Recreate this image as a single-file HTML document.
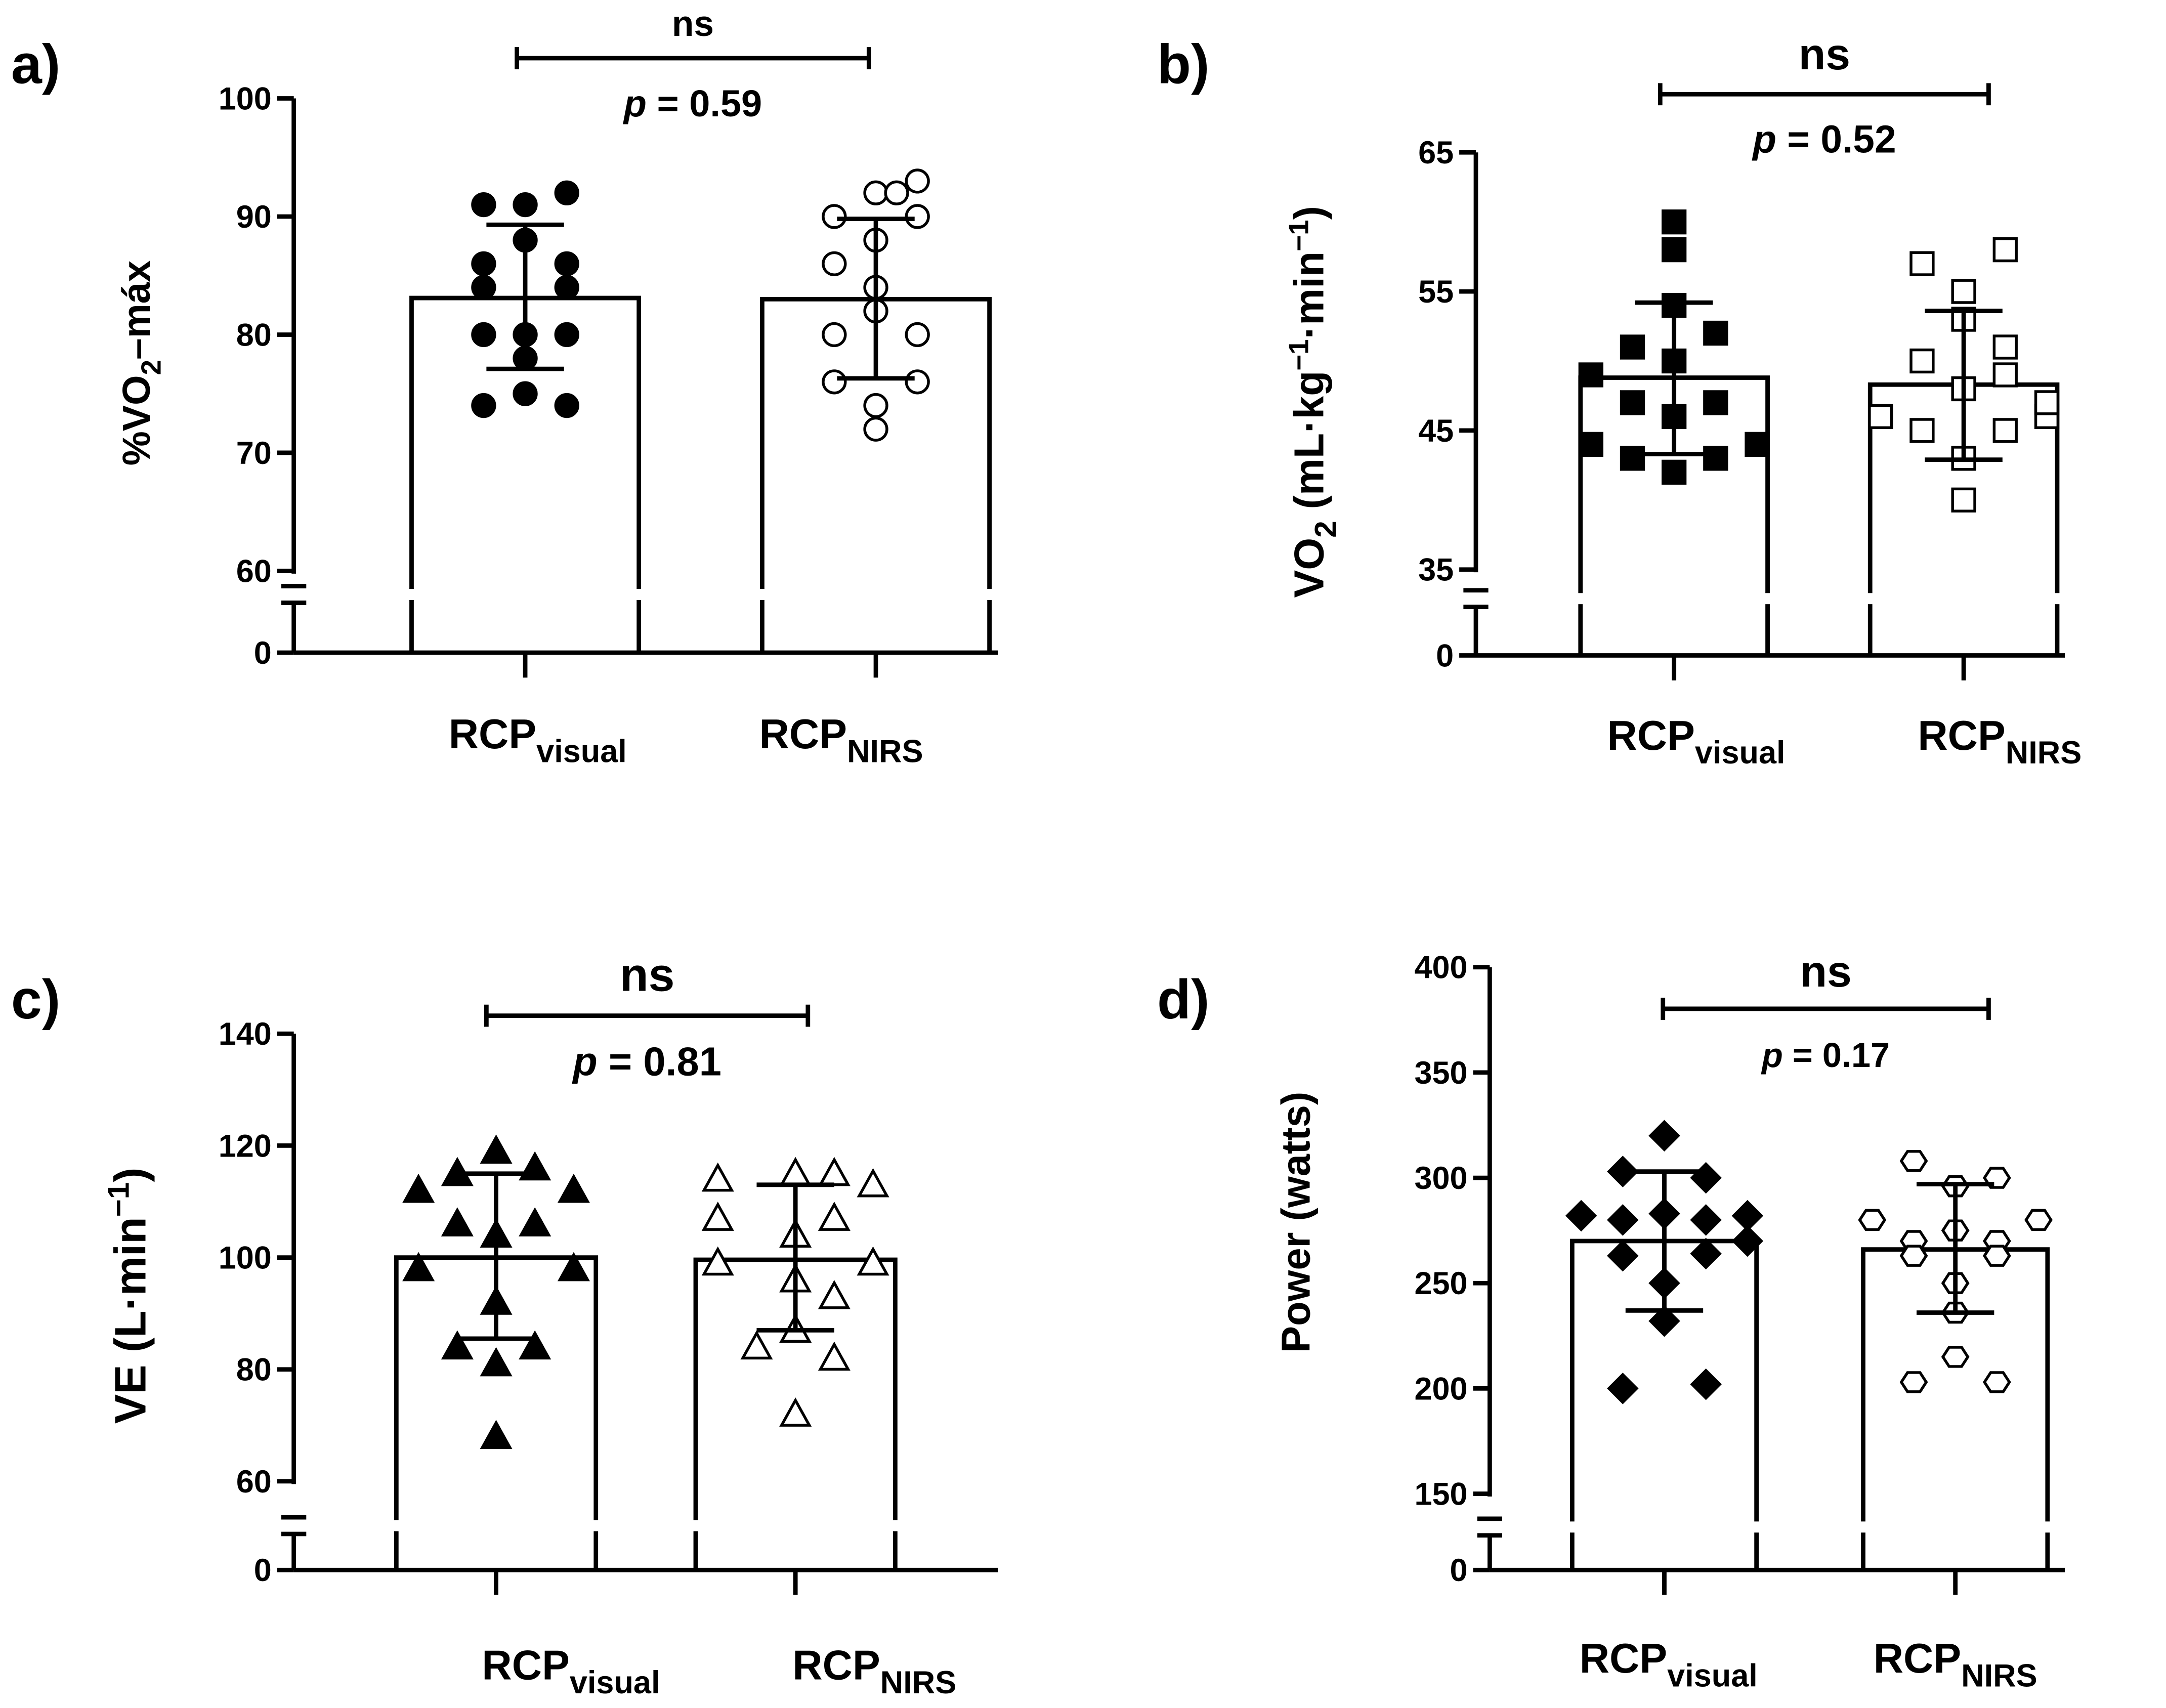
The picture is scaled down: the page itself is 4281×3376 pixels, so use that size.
<!DOCTYPE html>
<html><head><meta charset="utf-8">
<style>
html,body{margin:0;padding:0;background:#fff;}
svg{display:block;font-family:"Liberation Sans",Arial,sans-serif;font-weight:bold;}
</style></head>
<body>
<svg id="fig" width="4281" height="3376" viewBox="0 0 1563 1232.6" preserveAspectRatio="none" xmlns="http://www.w3.org/2000/svg"></svg>
<script>
// ---- data ----
const categories = ["visual", "NIRS"];
const aMeans = [83.1, 83.0];
const aLow = [77.1, 76.3];
const aHigh = [89.3, 89.8];
const aVisual = [[-1,91],[0,91],[1,92],[-1,86],[0,88],[1,86],[-1,84],[1,84],[-1,80],[0,80],[1,80],[0,78],[-1,74],[1,74],[0,75]];
const aNirs = [[-1,90],[0,92],[1,93],[-1,86],[0,88],[1,90],[0,84],[-1,80],[0,82],[1,80],[-1,76],[0,74],[1,76],[0,72],[0.5,92]];
const aTicks = [60,70,80,90,100];

const bMeans = [48.8, 48.3];
const bLow = [43.3, 42.9];
const bHigh = [54.2, 53.6];
const bVisual = [[0,60],[0,58],[0,54],[-1,51],[1,52],[-2,49],[0,50],[-1,47],[1,47],[0,46],[-2,44],[2,44],[-1,43],[1,43],[0,42]];
const bNirs = [[-1,57],[1,58],[0,55],[0,53],[-1,50],[1,51],[1,49],[-2,46],[0,48],[2,46],[-1,45],[1,45],[2,47],[0,43],[0,40]];
const bTicks = [35,45,55,65];

const cMeans = [100, 99.6];
const cLow = [85.5, 87];
const cHigh = [115, 113];
const cVisual = [[0,119],[-1,115],[1,116],[-2,112],[2,112],[-1,106],[1,106],[0,104],[-2,98],[2,98],[0,92],[-1,84],[1,84],[0,81],[0,68]];
const cNirs = [[-2,114],[0,115],[1,115],[2,113],[-2,107],[1,107],[0,104],[-2,99],[2,99],[0,96],[1,93],[-1,84],[0,87],[1,82],[0,72]];
const cTicks = [60,80,100,120,140];

const dMeans = [270, 266];
const dLow = [237, 236];
const dHigh = [303, 297];
const dVisual = [[0,320],[-1,303],[1,300],[-2,282],[-1,280],[1,280],[2,282],[0,283],[-1,263],[1,264],[0,250],[-1,200],[1,202],[0,232],[2,270]];
const dNirs = [[-1,308],[1,300],[0,296],[-2,280],[-1,270],[0,275],[1,270],[2,280],[-1,263],[1,263],[0,250],[0,236],[-1,203],[1,203],[0,215]];
const dTicks = [150,200,250,300,350,400];

const pvals = ["0.59","0.52","0.81","0.17"];

// ---- drawing ----
const svg = document.getElementById('fig');
const NS = "http://www.w3.org/2000/svg";
function mk(tag, attrs, parent){
  const e = document.createElementNS(NS, tag);
  for (const k in attrs) e.setAttribute(k, attrs[k]);
  (parent||svg).appendChild(e);
  return e;
}
function txt(parent, x, y, s, size, anchor){
  const t = mk('text', {x:x, y:y, 'font-size':size, 'text-anchor':anchor||'middle', fill:'#000'}, parent);
  t.textContent = s;
  return t;
}

function panel(cfg){
  const g = mk('g', {});
  
  
  const sy = v => cfg.yTop + (cfg.tmax - v) / (cfg.tmax - cfg.tmin) * (cfg.yMin - cfg.yTop);
  const S = {stroke:'#000','stroke-width':3.2,fill:'none'};
  const ax = mk('g', {}, g);
  
  
  mk('line', Object.assign({x1:cfg.ax, y1:cfg.yTop, x2:cfg.ax, y2:cfg.yMin+2}, S), ax);
  mk('line', Object.assign({x1:cfg.ax, y1:cfg.brk+10, x2:cfg.ax, y2:cfg.y0}, S), ax);
  mk('line', Object.assign({x1:cfg.ax-9, y1:cfg.brk-2, x2:cfg.ax+9, y2:cfg.brk-2}, S), ax);
  mk('line', Object.assign({x1:cfg.ax-9, y1:cfg.brk+10, x2:cfg.ax+9, y2:cfg.brk+10}, S), ax);
  cfg.ticks.forEach(v => {
    const y = sy(v);
    mk('line', Object.assign({x1:cfg.ax-12, y1:y, x2:cfg.ax, y2:y}, S), ax);
    const t = txt(ax, cfg.ax-16, y+8, String(v), 23, 'end');
    
    
  });
  mk('line', Object.assign({x1:cfg.ax-12, y1:cfg.y0, x2:cfg.ax, y2:cfg.y0}, S), ax);
  const z = txt(ax, cfg.ax-16, cfg.y0+8, "0", 23, 'end');
  
  
  const xa = mk('line', Object.assign({x1:cfg.ax, y1:cfg.y0, x2:cfg.axEnd, y2:cfg.y0}, S), g);
  
  
  categories.forEach((c, i) => {
    const cx = cfg.cx[i];
    const top = sy(cfg.means[i]);
    const bl = cx - cfg.bw/2, br = cx + cfg.bw/2;
    const bar = mk('path', Object.assign({d:`M${bl},${cfg.y0} L${bl},${top} L${br},${top} L${br},${cfg.y0}`}, S), g);
    
    
    [bl, br].forEach(x => {
      mk('rect', {x:x-4, y:cfg.brk, width:8, height:8, fill:'#fff'}, g);
    });
    mk('line', Object.assign({x1:cx, y1:cfg.y0, x2:cx, y2:cfg.y0+18}, S), g);
    const pts = i === 0 ? cfg.pv : cfg.pn;
    const shape = cfg.shapes[i];
    pts.forEach(p => {
      const px = cx + p[0]*cfg.spread, py = sy(p[1]);
      const fill = i === 0 ? '#000' : '#fff';
      const st = {stroke:'#000','stroke-width':2,fill:fill};
      let m;
      const r = 8;
      if (shape === 'circle') m = mk('circle', Object.assign({cx:px, cy:py, r:r}, st), g);
      else if (shape === 'square') m = mk('rect', Object.assign({x:px-r, y:py-r, width:2*r, height:2*r}, st), g);
      else if (shape === 'tri') m = mk('polygon', Object.assign({points:`${px},${py-10} ${px-10},${py+8} ${px+10},${py+8}`}, st), g);
      else if (shape === 'diamond') m = mk('polygon', Object.assign({points:`${px},${py-10} ${px+10},${py} ${px},${py+10} ${px-10},${py}`}, st), g);
      else {
        let ps = [];
        for (let k=0;k<6;k++){ const a = Math.PI/3*k; ps.push((px+9*Math.cos(a))+','+(py+8*Math.sin(a))); }
        m = mk('polygon', Object.assign({points:ps.join(' ')}, st), g);
      }
      
      
    });
    const eb = mk('g', {}, g);
    
    
    const lo = sy(cfg.low[i]), hi = sy(cfg.high[i]);
    mk('line', Object.assign({x1:cx, y1:lo, x2:cx, y2:hi}, S), eb);
    mk('line', Object.assign({x1:cx-28, y1:lo, x2:cx+28, y2:lo}, S), eb);
    mk('line', Object.assign({x1:cx-28, y1:hi, x2:cx+28, y2:hi}, S), eb);
    const lab = mk('text', {x:cfg.labX[i], y:cfg.labY, 'font-size':30, 'text-anchor':'middle', fill:'#000'}, g);
    
    
    const t1 = mk('tspan', {}, lab); t1.textContent = 'RCP';
    const t2 = mk('tspan', {dy:10, 'font-size':23}, lab); t2.textContent = c;
  });
  const sg = mk('g', {}, g);
  
  
  mk('line', Object.assign({x1:cfg.br[0], y1:cfg.brY, x2:cfg.br[1], y2:cfg.brY}, S), sg);
  mk('line', Object.assign({x1:cfg.br[0], y1:cfg.brY-8, x2:cfg.br[0], y2:cfg.brY+8}, S), sg);
  mk('line', Object.assign({x1:cfg.br[1], y1:cfg.brY-8, x2:cfg.br[1], y2:cfg.brY+8}, S), sg);
  const mid = (cfg.br[0]+cfg.br[1])/2;
  txt(sg, mid, cfg.nsY, 'ns', cfg.nsSize);
  const pt = mk('text', {x:mid, y:cfg.pY, 'font-size':cfg.pSize, 'text-anchor':'middle', fill:'#000'}, sg);
  const i1 = mk('tspan', {'font-style':'italic'}, pt); i1.textContent = 'p';
  const i2 = mk('tspan', {}, pt); i2.textContent = ' = ' + cfg.p;
  const pl = txt(g, cfg.letterX, cfg.letterY, cfg.letter, 40, 'start');
  
  
  const yt = mk('text', {transform:`translate(${cfg.ytX},${cfg.ytY}) rotate(-90)`, 'font-size':cfg.ytSize, 'text-anchor':'middle', fill:'#000'}, g);
  
  
  cfg.ytParts.forEach(pp => { const s = mk('tspan', pp[1], yt); s.textContent = pp[0]; });
}

panel({name:'panel-a', ax:212, axEnd:720, yTop:71, yMin:412, tmin:60, tmax:100, brk:425, y0:471, ticks:aTicks,
  cx:[379,632], bw:164, means:aMeans, low:aLow, high:aHigh, pv:aVisual, pn:aNirs, shapes:['circle','circle'], spread:30,
  labX:[388,607], labY:540, br:[373,627], brY:42, nsY:26, nsSize:26, pY:84, pSize:27, p:pvals[0], letter:'a)', letterX:8, letterY:60,
  ytX:108, ytY:262, ytSize:28, ytParts:[['%VO',{}],['2',{dy:8,'font-size':20}],['–máx',{dy:-8}]]});
panel({name:'panel-b', ax:1065, axEnd:1490, yTop:110, yMin:411, tmin:35, tmax:65, brk:428, y0:473, ticks:bTicks,
  cx:[1208,1417], bw:135, means:bMeans, low:bLow, high:bHigh, pv:bVisual, pn:bNirs, shapes:['square','square'], spread:30,
  labX:[1224,1443], labY:541, br:[1198,1435], brY:68, nsY:50, nsSize:32, pY:110, pSize:28, p:pvals[1], letter:'b)', letterX:835, letterY:60,
  ytX:955, ytY:290, ytSize:30, ytParts:[['VO',{}],['2',{dy:9,'font-size':22}],[' (mL·kg',{dy:-9}],['−1',{dy:-11,'font-size':20}],['·min',{dy:11}],['−1',{dy:-11,'font-size':20}],[')',{dy:11}]]});
panel({name:'panel-c', ax:212, axEnd:720, yTop:746, yMin:1069, tmin:60, tmax:140, brk:1097, y0:1133, ticks:cTicks,
  cx:[358,574], bw:144, means:cMeans, low:cLow, high:cHigh, pv:cVisual, pn:cNirs, shapes:['tri','tri'], spread:28,
  labX:[412,631], labY:1212, br:[351,583], brY:733, nsY:715, nsSize:34, pY:776, pSize:29, p:pvals[2], letter:'c)', letterX:8, letterY:735,
  ytX:105, ytY:935, ytSize:32, ytParts:[['VE  (L·min',{}],['−1',{dy:-12,'font-size':22}],[')',{dy:12}]]});
panel({name:'panel-d', ax:1075, axEnd:1490, yTop:698, yMin:1078, tmin:150, tmax:400, brk:1098, y0:1133, ticks:dTicks,
  cx:[1201,1411], bw:133, means:dMeans, low:dLow, high:dHigh, pv:dVisual, pn:dNirs, shapes:['diamond','hex'], spread:30,
  labX:[1204,1411], labY:1207, br:[1200,1435], brY:728, nsY:712, nsSize:32, pY:770, pSize:25, p:pvals[3], letter:'d)', letterX:835, letterY:735,
  ytX:945, ytY:882, ytSize:29, ytParts:[['Power (watts)',{}]]});
</script>
</body></html>
